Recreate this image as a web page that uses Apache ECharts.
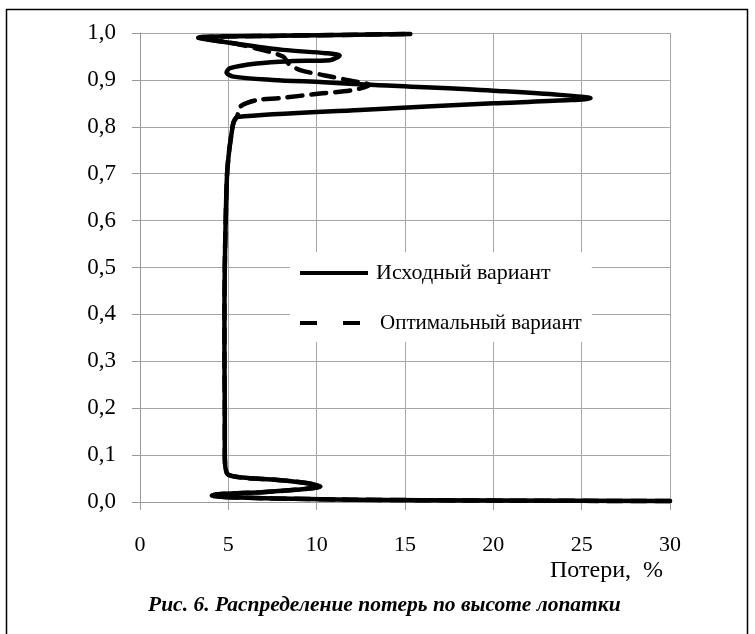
<!DOCTYPE html>
<html><head><meta charset="utf-8">
<script src="https://cdn.jsdelivr.net/npm/echarts@6/dist/echarts.min.js"></script>
<style>html,body{margin:0;padding:0;background:#fff}#c{width:755px;height:634px}</style>
</head><body><div id="c"></div>
<script>
// Series: [loss %, relative blade height]
const seriesNames = ['Исходный вариант', 'Оптимальный вариант'];
const baseX = [30, 20, 12, 7, 4.6, 4.07, 4.6, 6.9, 8.8, 10.2, 9.5, 7.8, 5.8, 5.0, 4.85, 4.8, 4.8, 4.78, 4.78, 4.8, 4.85, 4.93, 5.05, 5.2, 5.3];
const baseY = [0.002, 0.003, 0.005, 0.008, 0.011, 0.014, 0.017, 0.021, 0.026, 0.033, 0.04, 0.047, 0.052, 0.058, 0.07, 0.1, 0.2, 0.3, 0.4, 0.5, 0.6, 0.7, 0.75, 0.79, 0.81];
const origTopX = [5.5, 12.45, 20, 25.5, 20, 13.3, 10.4, 7.5, 5.3, 4.9, 5.1, 6.6, 8.5, 10.75, 11.3, 10.5, 8.1, 5.5, 3.3, 8, 15.3];
const origTopY = [0.821, 0.836, 0.85, 0.861, 0.877, 0.889, 0.895, 0.9, 0.907, 0.916, 0.925, 0.935, 0.94, 0.942, 0.952, 0.957, 0.964, 0.977, 0.99, 0.994, 0.998];
const optTopX = [5.5, 5.66, 6.6, 7.9, 10.2, 12, 13.0, 11.7, 10.4, 9.06, 8.4, 8.1, 6.6, 5.3, 3.3, 8, 15.3];
const optTopY = [0.822, 0.843, 0.857, 0.861, 0.871, 0.878, 0.889, 0.9, 0.91, 0.921, 0.935, 0.95, 0.967, 0.978, 0.99, 0.994, 0.998];
const xTicks = [0, 5, 10, 15, 20, 25, 30];
const yTicks = [0, 0.1, 0.2, 0.3, 0.4, 0.5, 0.6, 0.7, 0.8, 0.9, 1.0];
const xAxisName = 'Потери,  %';
const caption = 'Рис. 6. Распределение потерь по высоте лопатки';

function pairs(xs, ys) { return xs.map((x, i) => [x, ys[i]]); }
const origData = pairs(baseX.concat(origTopX), baseY.concat(origTopY));
const optData = pairs(baseX.concat(optTopX), baseY.concat(optTopY));

const FONT = 'Liberation Serif';
const chart = echarts.init(document.getElementById('c'), null, { renderer: 'canvas' });
chart.setOption({
  backgroundColor: '#fff',
  animation: false,
  grid: { left: 140, top: 33, width: 530, height: 469, containLabel: false },
  xAxis: {
    type: 'value', min: xTicks[0], max: xTicks[xTicks.length - 1], interval: 5,
    axisLine: { show: true, lineStyle: { color: '#9a9a9a', width: 1 } },
    axisTick: { show: true, length: 8, lineStyle: { color: '#9a9a9a' } },
    splitLine: { show: true, lineStyle: { color: '#a6a6a6', width: 1 } },
    axisLabel: { margin: 32, color: '#000', fontFamily: FONT, fontSize: 22 }
  },
  yAxis: {
    type: 'value', min: yTicks[0], max: yTicks[yTicks.length - 1], interval: 0.1,
    axisLine: { show: true, lineStyle: { color: '#9a9a9a', width: 1 } },
    axisTick: { show: true, length: 8, lineStyle: { color: '#9a9a9a' } },
    splitLine: { show: true, lineStyle: { color: '#a6a6a6', width: 1 } },
    axisLabel: { margin: 24, color: '#000', fontFamily: FONT, fontSize: 23,
      formatter: v => v.toFixed(1).replace('.', ',') }
  },
  legend: {
    left: 290, top: 252, orient: 'vertical',
    padding: [10, 10, 8, 10],
    backgroundColor: '#fff',
    itemWidth: 68, itemHeight: 4, itemGap: 28,
    textStyle: { fontFamily: FONT, fontSize: 22, color: '#000', lineHeight: 22, padding: [0, 0, 0, 3] },
    data: [
      { name: seriesNames[0], icon: 'rect', itemStyle: { color: '#000' } },
      { name: seriesNames[1], icon: 'path://M0,0H17V4H0ZM43,0H60V4H43ZM68,0L68,4Z', itemStyle: { color: '#000' },
        textStyle: { fontSize: 21, padding: [0, 0, 0, 7] } }
    ]
  },
  series: [
    {
      name: seriesNames[1], type: 'line', data: optData, symbol: 'none', smooth: 0.3,
      lineStyle: { color: '#000', width: 4.5, type: [15, 9], cap: 'round' }, z: 2
    },
    {
      name: seriesNames[0], type: 'line', data: origData, symbol: 'none', smooth: 0.3,
      lineStyle: { color: '#000', width: 4.5, cap: 'round', join: 'round' }, z: 3
    }
  ],
  graphic: [
    { type: 'rect', shape: { x: 6.5, y: 9.5, width: 741, height: 700 }, style: { fill: 'none', stroke: '#000', lineWidth: 1.5 }, silent: true },
    { type: 'text', right: 92, top: 559, style: { text: xAxisName, font: '24px "Liberation Serif"', fill: '#000' } },
    { type: 'text', left: 148, top: 594, style: { text: caption, font: 'italic bold 21.5px "Liberation Serif"', fill: '#000' } }
  ]
});
</script></body></html>
